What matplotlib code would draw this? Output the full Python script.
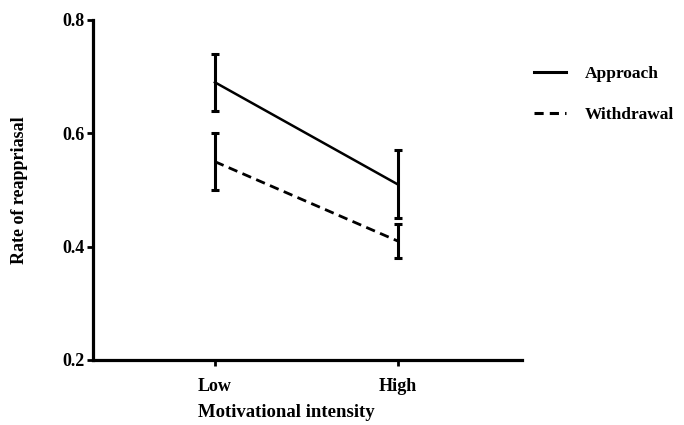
import numpy as np
import matplotlib
matplotlib.use('Agg')
import matplotlib.pyplot as plt
from matplotlib.lines import Line2D

plt.rcParams['font.family'] = 'Liberation Serif'
plt.rcParams['font.weight'] = 'bold'

levels = ['Low', 'High']
approach = [0.69, 0.51]
approach_err = [0.05, 0.06]
withdrawal = [0.55, 0.41]
withdrawal_err = [0.05, 0.03]
series_names = ['Approach', 'Withdrawal']

fig = plt.figure(figsize=(6.84, 4.25), dpi=100)
ax = fig.add_axes([0.136, 0.153, 0.627, 0.8])

x = np.arange(len(levels))
ax.errorbar(x, approach, yerr=approach_err, color='black', lw=1.8,
            elinewidth=2.2, capsize=3, capthick=2.2)
ax.errorbar(x, withdrawal, yerr=withdrawal_err, color='black', lw=2.0,
            ls=(0, (3.4, 2)), elinewidth=2.2, capsize=3, capthick=2.2)

ax.set_xlim(-0.667, 1.68)
ax.set_ylim(0.2, 0.8)
ax.set_yticks([0.2, 0.4, 0.6, 0.8])
ax.set_xticks(x)
ax.set_xticklabels(levels)
ax.spines['top'].set_visible(False)
ax.spines['right'].set_visible(False)
for s in ['left', 'bottom']:
    ax.spines[s].set_linewidth(2.3)
ax.tick_params(width=2.0, length=4, labelsize=13, pad=2)
ax.tick_params(axis='x', pad=9)
for lab in ax.get_xticklabels() + ax.get_yticklabels():
    lab.set_fontweight('bold')

ax.set_xlabel('Motivational intensity', fontsize=13.5, fontweight='bold')
ax.xaxis.set_label_coords(0.45, -0.13)
ax.set_ylabel('Rate of reappriasal', fontsize=13, fontweight='bold')
ax.yaxis.set_label_coords(-0.151, 0.5)

h = [Line2D([], [], color='black', lw=2.2),
     Line2D([], [], color='black', lw=2.2, ls=(0, (3, 2)))]
fig.legend(h, series_names, loc='upper left', bbox_to_anchor=(0.758, 0.882),
           frameon=False, handlelength=1.85, handletextpad=1.05,
           labelspacing=1.45, prop={'weight': 'bold', 'size': 12.5})

fig.savefig('out.png', dpi=100)
